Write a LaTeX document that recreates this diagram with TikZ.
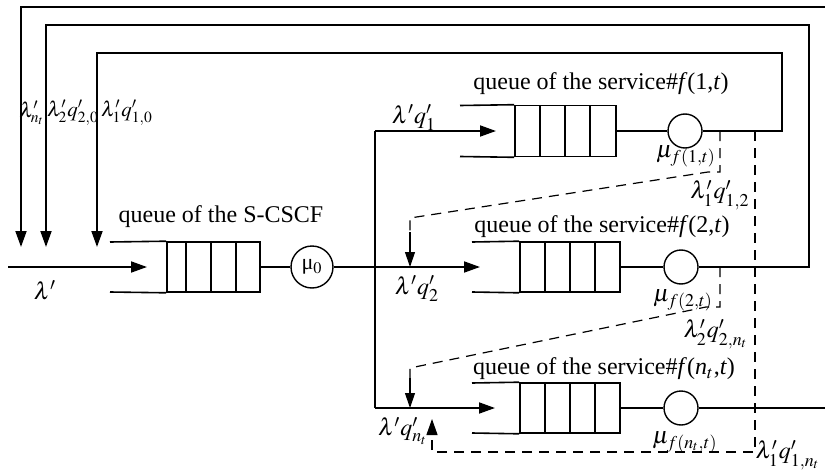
\documentclass[tikz,border=0pt]{standalone}
\usepackage{mathptmx}
\usepackage{fontspec}
\setmainfont{Liberation Serif}
\usetikzlibrary{arrows.meta}
\begin{document}
\begin{tikzpicture}[x=0.5pt,y=-0.5pt,
  mline/.style={line width=0.9pt},
  thinline/.style={line width=0.6pt},
  dline/.style={line width=0.6pt, dash pattern=on 5pt off 3.5pt},
  arr/.style={-{Triangle[length=8pt,width=5.5pt]}},
  sarr/.style={-{Triangle[length=7.5pt,width=5pt]}},
  lbl/.style={inner sep=0pt, font=\fontsize{12}{14}\selectfont},
  slbl/.style={inner sep=0pt, font=\fontsize{10.5}{12}\selectfont},
  qcells/.style={draw, line width=0.8pt, minimum height=25pt, inner sep=0pt},
  srv/.style={draw, circle, line width=0.7pt, inner sep=0pt, minimum size=17pt},
]
\useasboundingbox (0,0) rectangle (825,471);

% ---------- S-CSCF queue ----------
\node[qcells, minimum width=46.5pt] (qs) at (213.5,267) {};
\foreach \x in {186,211,236} \draw[line width=0.8pt] (\x,242) -- (\x,292);
\draw[line width=0.8pt] (110,242) -- (qs.north west);
\draw[line width=0.8pt] (110,292) -- (qs.south west);
\node[srv, minimum size=21pt, font=\fontsize{11}{13}\selectfont] (m0) at (312,267) {μ$_0$};
\node[lbl] (ts) at (221,217) {queue of the S-CSCF};

% ---------- service queues ----------
\node[qcells, minimum width=50.5pt, minimum height=25.5pt] (q1) at (565.5,131) {};
\foreach \x in {540,565,590} \draw[line width=0.8pt] (\x,105.5) -- (\x,156.5);
\draw[line width=0.8pt] (460,105.5) -- (q1.north west);
\draw[line width=0.8pt] (460,156.5) -- (q1.south west);
\node[srv] (s1) at (685,131) {};
\node[lbl] (t1) at (601,84) {queue of the service\#\textit{f}(1,\textit{t})};

\node[qcells, minimum width=50pt] (q2) at (570,267) {};
\foreach \x in {545,570,595} \draw[line width=0.8pt] (\x,242) -- (\x,292);
\draw[line width=0.8pt] (472,242) -- (q2.north west);
\draw[line width=0.8pt] (472,292) -- (q2.south west);
\node[srv] (s2) at (681,267) {};
\node[lbl] (t2) at (602,227) {queue of the service\#\textit{f}(2,\textit{t})};

\node[qcells, minimum width=50pt] (q3) at (570,408) {};
\foreach \x in {545,570,595} \draw[line width=0.8pt] (\x,383) -- (\x,433);
\draw[line width=0.8pt] (472,383) -- (q3.north west);
\draw[line width=0.8pt] (472,433) -- (q3.south west);
\node[srv] (s3) at (681,408) {};
\node[lbl] (t3) at (604,369) {queue of the service\#\textit{f}(\textit{n}$_t$,\textit{t})};

% ---------- coordinates ----------
\coordinate (src) at (8,267);
\coordinate (srcend) at (147,267);
\coordinate (j1) at (375,131);
\coordinate (j3) at (375,408);
\coordinate (in1) at (496,131);
\coordinate (in2) at (480,267);
\coordinate (in3) at (495,408);
\coordinate (fbA) at (21,247);
\coordinate (fbB) at (46,247);
\coordinate (fbC) at (97,247);
\coordinate (edgeA) at (825,7);
\coordinate (edge3) at (825,408);

% ---------- solid connectors ----------
\draw[mline, arr] (src) -- (srcend);
\draw[thinline] (qs.east) -- (m0.west);
\draw[mline, arr] (m0.east) -- (in2);
\draw[mline] (j1) -- (j3);
\draw[mline, arr] (j1) -- (in1);
\draw[mline, arr] (j3) -- (in3);

\draw[thinline] (q1.east) -- (s1.west);
\draw[thinline] (q2.east) -- (s2.west);
\draw[thinline] (q3.east) -- (s3.west);

\draw[mline, arr] (s1.east) -| (782,53) -| (fbC);
\draw[mline, arr] (s2.east) -| (809,25) -| (fbB);
\draw[mline, arr] (edgeA) -| (fbA);
\draw[mline] (s3.east) -- (edge3);

% ---------- dashed connectors ----------
\draw[dline] (720,131) -- (720,172) -- (708,172) -- (410,218) -- (410,232);
\draw[thinline, sarr] (410,232) -- (410,267);
\draw[dline] (720,267) -- (720,307) -- (706,307) -- (410,368) -- (410,378);
\draw[thinline, sarr] (410,378) -- (410,408);
\draw[dline, arr] (755,131) |- (432,452) -- (432,419);

% ---------- labels ----------
\node[lbl] (lam) at (45,290) {$\lambda'$};
\node[slbl] (lnt) at (32,113) {$\lambda'_{n_t}$};
\node[slbl] (l20) at (73,113) {$\lambda'_2q'_{2,0}$};
\node[slbl] (l10) at (127,113) {$\lambda'_1q'_{1,0}$};
\node[lbl] (lq1) at (414,118) {$\lambda'q'_1$};
\node[lbl] (lq2) at (417,289) {$\lambda'q'_2$};
\node[lbl] (lq3) at (403,431) {$\lambda'q'_{n_t}$};
\node[lbl] (mu1) at (686,156) {$\mu_{f(1,t)}$};
\node[lbl] (mu2) at (683,300) {$\mu_{f(2,t)}$};
\node[lbl] (mu3) at (685,442) {$\mu_{f(n_t,t)}$};
\node[lbl] (l12) at (720,195) {$\lambda'_1q'_{1,2}$};
\node[lbl] (l2n) at (716,334) {$\lambda'_2q'_{2,n_t}$};
\node[lbl] (l1n) at (788,455) {$\lambda'_1q'_{1,n_t}$};
\end{tikzpicture}
\end{document}
